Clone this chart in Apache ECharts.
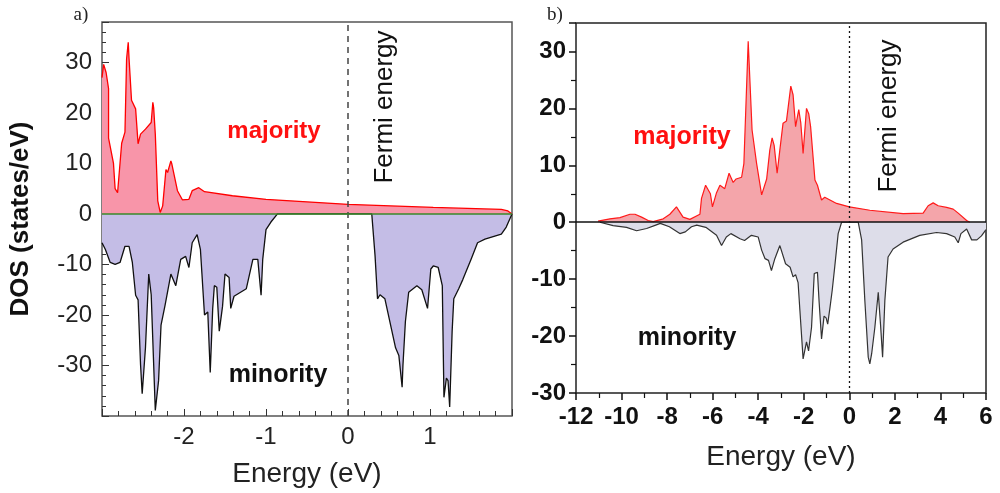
<!DOCTYPE html>
<html><head><meta charset="utf-8">
<script src="https://cdn.jsdelivr.net/npm/echarts@6/dist/echarts.min.js"></script>
<style>html,body{margin:0;padding:0;background:#fff}#c{width:1000px;height:493px}</style>
</head><body><div id="c"></div>
<script>
// Panel a) majority spin
const aMajE = [-3.0,-2.98,-2.95,-2.92,-2.92,-2.86,-2.84,-2.81,-2.76,-2.72,-2.70,-2.68,-2.67,-2.64,-2.59,-2.56,-2.53,-2.47,-2.40,-2.38,-2.37,-2.35,-2.32,-2.29,-2.26,-2.22,-2.20,-2.16,-2.15,-2.08,-2.02,-1.94,-1.90,-1.82,-1.75,-1.41,-1.0,0,1.04,1.87,1.95,2.0];
const aMajV = [27,29.6,28,24.8,15,10,5,4.2,14,16.2,30.7,34,30.7,22.5,20.8,13.9,15.8,16.8,18.1,22.1,21,15.8,2.6,0.3,1.6,8.8,8.2,10.5,10,4.6,2.8,2.9,4.6,5.2,4.4,3.6,2.9,1.9,1.3,0.9,0.6,0];
// Panel a) minority spin
const aMinE = [-3.0,-2.96,-2.90,-2.84,-2.78,-2.72,-2.67,-2.63,-2.59,-2.56,-2.53,-2.51,-2.47,-2.43,-2.40,-2.35,-2.31,-2.28,-2.23,-2.16,-2.10,-2.04,-1.98,-1.94,-1.90,-1.84,-1.80,-1.75,-1.71,-1.68,-1.65,-1.63,-1.60,-1.57,-1.53,-1.50,-1.45,-1.43,-1.39,-1.24,-1.16,-1.10,-1.06,-1.04,-1.0,-0.94,-0.86,0.29,0.33,0.36,0.39,0.45,0.58,0.62,0.66,0.67,0.70,0.74,0.84,0.90,0.97,1.01,1.04,1.10,1.15,1.17,1.20,1.22,1.24,1.27,1.29,1.35,1.40,1.50,1.58,1.67,1.87,1.93,2.0];
const aMinV = [-5.7,-7,-9.6,-10,-9.6,-6.4,-6.4,-9.6,-16.1,-17,-29.8,-35.6,-26.5,-11.9,-16,-38.9,-33,-22,-18,-11.9,-14.2,-9,-8.4,-10.6,-5.7,-4.1,-7,-20,-19.4,-31.4,-18.7,-14.2,-14.5,-23.2,-18.3,-11.9,-12.6,-18.7,-16.3,-14.8,-9,-9,-16.1,-9,-3.1,-1.6,0,0,-8.3,-16.8,-16,-16.8,-26.5,-28,-34.3,-30,-21.3,-15.5,-14.2,-15,-18.7,-10.9,-10.3,-10.6,-14.2,-36.3,-32.5,-33,-38.2,-23.2,-16.8,-14.8,-13,-9,-5.7,-5,-4,-2.6,0];
// Panel b) majority spin
const bMajE = [-11.03,-10.51,-10.07,-9.63,-9.41,-9.12,-8.83,-8.61,-8.17,-7.88,-7.59,-7.30,-7.00,-6.56,-6.49,-6.31,-6.10,-6.01,-5.83,-5.68,-5.47,-5.28,-5.10,-4.97,-4.73,-4.63,-4.44,-4.27,-4.07,-3.85,-3.63,-3.49,-3.39,-3.30,-3.17,-3.05,-2.91,-2.76,-2.57,-2.47,-2.36,-2.22,-2.13,-2.03,-1.88,-1.78,-1.70,-1.63,-1.51,-1.40,-1.22,-1.08,-0.56,0,0.9,2.36,3.24,3.46,3.68,3.90,4.27,4.56,4.78,5.15,5.29];
const bMajV = [0.2,0.6,0.8,1.4,1.4,0.9,0.3,0.1,0.6,1.4,2.7,0.9,0.5,1.4,4.2,6.5,5,2.7,5.2,6.5,5.9,8.6,7,7.6,7.9,10.3,31.8,16.2,10.3,4.8,7.6,12.7,14.8,13.5,8.6,12.7,17.4,17.8,23.9,22.4,16.8,19.8,17.4,12.1,20,19,16.8,17,7.4,6.5,3.9,4.4,3.3,2.7,2.1,1.5,1.6,2.9,3.4,2.9,2.6,2.3,1.6,0.3,0];
// Panel b) minority spin
const bMinE = [-10.95,-10.37,-9.78,-9.34,-8.9,-8.5,-8.3,-7.9,-7.44,-7.2,-6.93,-6.7,-6.3,-5.83,-5.61,-5.4,-5.2,-4.8,-4.6,-4.3,-4.0,-3.85,-3.7,-3.55,-3.42,-3.27,-3.05,-2.8,-2.6,-2.47,-2.36,-2.25,-2.17,-2.03,-1.88,-1.79,-1.66,-1.54,-1.4,-1.33,-1.22,-1.11,-1.02,-0.95,-0.85,-0.75,-0.64,-0.49,-0.34,0.39,0.54,0.68,0.83,0.9,0.98,1.12,1.27,1.37,1.46,1.56,1.70,1.92,2.36,3.09,3.83,4.27,4.63,4.78,4.9,5.15,5.37,5.6,5.8,6.0];
const bMinV = [0,-0.6,-0.9,-1.5,-1.1,-0.5,-0.2,-0.8,-2.0,-1.7,-0.8,-0.5,-0.9,-2.3,-4.1,-2.6,-2,-2.9,-3.2,-2.3,-2.6,-4.9,-6.4,-6.7,-8.5,-6.4,-4.1,-7.3,-7.9,-9.6,-9.2,-10.6,-15.5,-24,-21,-22.6,-18.5,-9,-8.8,-13.8,-20.5,-16.5,-16.8,-17.9,-15,-11.9,-7.8,-2,0,0,-3.1,-13.7,-23.7,-24.9,-23.1,-18.5,-12.3,-18,-23.7,-13.7,-6.1,-4.7,-3.5,-2.3,-1.8,-2,-2.6,-3.6,-2,-1.2,-3.1,-3.1,-2.4,-1.3];

const aYTicks = [-30,-20,-10,0,10,20,30];
const aXTicks = [-2,-1,0,1];
const bYTicks = [-30,-20,-10,0,10,20,30];
const bXTicks = [-12,-10,-8,-6,-4,-2,0,2,4,6];

const pair = (e, v) => e.map((x, i) => [x, v[i]]);
const chart = echarts.init(document.getElementById('c'));
const sans = 'Liberation Sans, Arial, sans-serif';
const F = '"Liberation Sans", Arial, sans-serif';

chart.setOption({
  animation: false,
  grid: [
    {left: 102, top: 22, width: 410, height: 395, show: true, borderColor: '#555', borderWidth: 1.5, backgroundColor: 'transparent'},
    {left: 576, top: 23, width: 410, height: 370, show: true, borderColor: '#222', borderWidth: 1.5, backgroundColor: 'transparent'}
  ],
  xAxis: [
    {gridIndex: 0, type: 'value', min: -3, max: 2, interval: 1,
     axisLine: {show: false, onZero: false}, splitLine: {show: false},
     axisTick: {show: true, inside: true, length: 7, lineStyle: {color: '#333'}},
     minorTick: {show: true, splitNumber: 5, length: 5, lineStyle: {color: '#333'}},
     axisLabel: {fontFamily: sans, fontSize: 24, color: '#222', margin: 9,
       formatter: v => aXTicks.includes(v) ? String(v) : ''},
     name: 'Energy (eV)', nameLocation: 'middle', nameGap: 44,
     nameTextStyle: {fontFamily: sans, fontSize: 28, color: '#222'}},
    {gridIndex: 1, type: 'value', min: -12, max: 6, interval: 2,
     axisLine: {show: false, onZero: false}, splitLine: {show: false},
     axisTick: {show: true, inside: false, length: 7, lineStyle: {color: '#111', width: 1.5}},
     minorTick: {show: true, splitNumber: 2, length: 5, lineStyle: {color: '#111', width: 1.2}},
     axisLabel: {fontFamily: sans, fontSize: 24, fontWeight: 'bold', color: '#111', margin: 12,
       formatter: v => bXTicks.includes(v) ? String(v) : ''},
     name: 'Energy (eV)', nameLocation: 'middle', nameGap: 50,
     nameTextStyle: {fontFamily: sans, fontSize: 28, color: '#222'}}
  ],
  yAxis: [
    {gridIndex: 0, type: 'value', min: -40, max: 38, interval: 10,
     axisLine: {show: false, onZero: false}, splitLine: {show: false},
     axisTick: {show: true, inside: true, length: 7, lineStyle: {color: '#333'}},
     minorTick: {show: true, splitNumber: 5, length: 4, lineStyle: {color: '#333'}},
     axisLabel: {fontFamily: sans, fontSize: 24, color: '#222', margin: 10,
       formatter: v => aYTicks.includes(v) ? String(v) : ''},
     name: 'DOS (states/eV)', nameLocation: 'middle', nameGap: 68, nameRotate: 90,
     nameTextStyle: {fontFamily: sans, fontSize: 26, fontWeight: 'bold', color: '#111'}},
    {gridIndex: 1, type: 'value', min: -30, max: 35, interval: 10,
     axisLine: {show: false, onZero: false}, splitLine: {show: false},
     axisTick: {show: true, inside: false, length: 7, lineStyle: {color: '#111', width: 1.5}},
     minorTick: {show: true, splitNumber: 2, length: 5, lineStyle: {color: '#111', width: 1.2}},
     axisLabel: {fontFamily: sans, fontSize: 24, fontWeight: 'bold', color: '#111', margin: 10,
       formatter: v => bYTicks.includes(v) ? String(v) : ''}}
  ],
  series: [
    {type: 'line', xAxisIndex: 0, yAxisIndex: 0, data: pair(aMajE, aMajV), showSymbol: false,
     lineStyle: {color: '#ff0000', width: 1.3}, areaStyle: {color: '#f895a9', opacity: 1}, z: 2,
     markLine: {silent: true, symbol: 'none', label: {show: false},
       lineStyle: {color: '#444', type: [6, 5], width: 1.5}, data: [{xAxis: 0}]}},
    {type: 'line', xAxisIndex: 0, yAxisIndex: 0, data: pair(aMinE, aMinV), showSymbol: false,
     lineStyle: {color: '#111', width: 1.3}, areaStyle: {color: '#c4bde6', opacity: 1}, z: 2},
    {type: 'line', xAxisIndex: 0, yAxisIndex: 0, data: [], z: 5,
     markLine: {silent: true, symbol: 'none', label: {show: false}, z: 5,
       lineStyle: {color: '#3a8a2a', type: 'solid', width: 1.6}, data: [{yAxis: 0}]}},
    {type: 'line', xAxisIndex: 1, yAxisIndex: 1, data: pair(bMajE, bMajV), showSymbol: false,
     lineStyle: {color: '#ff1a1a', width: 1.2}, areaStyle: {color: '#f4a5aa', opacity: 1}, z: 2,
     markLine: {silent: true, symbol: 'none', label: {show: false},
       lineStyle: {color: '#111', type: [2, 3], width: 1.3}, data: [{xAxis: 0}]}},
    {type: 'line', xAxisIndex: 1, yAxisIndex: 1, data: pair(bMinE, bMinV), showSymbol: false,
     lineStyle: {color: '#333', width: 1.2}, areaStyle: {color: '#dddde9', opacity: 1}, z: 2,
     markLine: {silent: true, symbol: 'none', label: {show: false},
       lineStyle: {color: '#111', type: 'solid', width: 1.5}, data: [{yAxis: 0}]}}
  ],
  graphic: [
    {type: 'text', x: 81, y: 15, style: {text: 'a)', font: '19px "Liberation Serif", serif', fill: '#222', align: 'center', verticalAlign: 'middle'}},
    {type: 'text', x: 555, y: 15, style: {text: 'b)', font: '19px "Liberation Serif", serif', fill: '#222', align: 'center', verticalAlign: 'middle'}},
    {type: 'text', x: 274, y: 131, style: {text: 'majority', font: 'bold 24px ' + F, fill: '#ff1010', align: 'center', verticalAlign: 'middle'}},
    {type: 'text', x: 682, y: 137, style: {text: 'majority', font: 'bold 25px ' + F, fill: '#ff1010', align: 'center', verticalAlign: 'middle'}},
    {type: 'text', x: 278, y: 375, style: {text: 'minority', font: 'bold 25px ' + F, fill: '#111', align: 'center', verticalAlign: 'middle'}},
    {type: 'text', x: 687, y: 338, style: {text: 'minority', font: 'bold 25px ' + F, fill: '#111', align: 'center', verticalAlign: 'middle'}},
    {type: 'text', x: 385, y: 107, rotation: Math.PI / 2, style: {text: 'Fermi energy', font: '26px ' + F, fill: '#111', align: 'center', verticalAlign: 'middle'}},
    {type: 'text', x: 889, y: 116, rotation: Math.PI / 2, style: {text: 'Fermi energy', font: '26px ' + F, fill: '#111', align: 'center', verticalAlign: 'middle'}}
  ]
});
</script></body></html>
